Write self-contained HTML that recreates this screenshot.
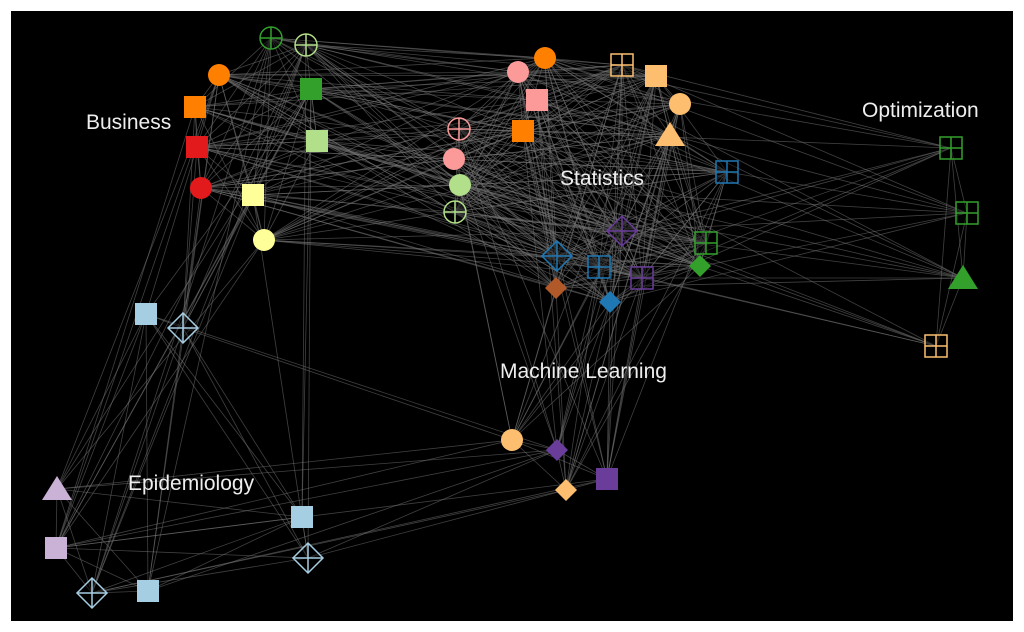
<!DOCTYPE html>
<html><head><meta charset="utf-8"><style>
html,body{margin:0;padding:0;background:#fff;width:1024px;height:632px;overflow:hidden}
#c{position:absolute;left:11px;top:11px;width:1002px;height:610px;background:#000}
svg{position:absolute;left:0;top:0}
text{font-family:"Liberation Sans",sans-serif;font-size:21px;fill:#eee}
</style></head><body>
<div id="c"></div>
<svg id="s" width="1024" height="632"><g id="e"></g><g id="n"></g>
<text x="86" y="129">Business</text>
<text x="560" y="185">Statistics</text>
<text x="862" y="117">Optimization</text>
<text x="500" y="378">Machine Learning</text>
<text x="128" y="490">Epidemiology</text>
</svg>
<script>
var G='#33a02c',LG='#b2df8a',O='#ff7f00',R='#e31a1c',Y='#ffff99',P='#fb9a99',LO='#fdbf6f',B='#1f78b4',PU='#6a3d9a',BR='#b15928',LB='#a6cee3',LP='#cab2d6';
var N=[
[271,38,'cc',G,0],[306,45,'cc',LG,0],[219,75,'c',O,0],[195,107,'s',O,0],[311,89,'s',G,0],[197,147,'s',R,0],[317,141,'s',LG,0],[201,188,'c',R,0],[253,195,'s',Y,0],[264,240,'c',Y,0],
[459,129,'cc',P,1],[454,159,'c',P,1],[460,185,'c',LG,1],[455,212,'cc',LG,1],[518,72,'c',P,1],[545,58,'c',O,1],[537,100,'s',P,1],[523,131,'s',O,1],[622,65,'sc',LO,1],[656,76,'s',LO,1],[680,104,'c',LO,1],[670,135,'t',LO,1],[727,172,'sc',B,1],[622,231,'dc',PU,1],[557,256,'dc',B,1],[599,267,'sc',B,1],[642,278,'sc',PU,1],[706,243,'sc',G,1],[700,266,'d',G,1],[556,288,'d',BR,1],[610,302,'d',B,1],
[951,148,'sc',G,2],[967,213,'sc',G,2],[963,278,'t',G,2],[936,346,'sc',LO,2],
[512,440,'c',LO,3],[557,450,'d',PU,3],[607,479,'s',PU,3],[566,490,'d',LO,3],
[146,314,'s',LB,4],[183,328,'dc',LB,4],[57,489,'t',LP,4],[56,548,'s',LP,4],[92,593,'dc',LB,4],[148,591,'s',LB,4],[302,517,'s',LB,4],[308,558,'dc',LB,4]];
var seed=7;function rnd(){seed=(seed*16807)%2147483647;return seed/2147483647;}
var pr=[[0.9,0.55,0,0,0.3],[0.55,0.85,0.35,0.4,0],[0,0.35,1,0,0],[0,0.4,0,1,0.35],[0.3,0,0,0.35,0.9]];
var e='';
for(var i=0;i<N.length;i++)for(var j=i+1;j<N.length;j++){var a=N[i],b=N[j];
 var p=pr[a[4]][b[4]];
 if(a[4]==4&&b[4]==0&&a[1]>400)p=0.05;
 if(a[4]==4&&b[4]==3&&a[1]<400)p=0.05;
 if(rnd()<p)e+='<line x1="'+a[0]+'" y1="'+a[1]+'" x2="'+b[0]+'" y2="'+b[1]+'"/>';}
document.getElementById('e').innerHTML='<g stroke="#777" stroke-opacity="0.55" stroke-width="0.8">'+e+'</g>';
var n='';
N.forEach(function(d){var x=d[0],y=d[1],c=d[3];
 if(d[2]=='c')n+='<circle cx="'+x+'" cy="'+y+'" r="11" fill="'+c+'"/>';
 else if(d[2]=='s')n+='<rect x="'+(x-11)+'" y="'+(y-11)+'" width="22" height="22" fill="'+c+'"/>';
 else if(d[2]=='t')n+='<polygon points="'+x+','+(y-13)+' '+(x+15)+','+(y+11)+' '+(x-15)+','+(y+11)+'" fill="'+c+'"/>';
 else if(d[2]=='d')n+='<polygon points="'+x+','+(y-11)+' '+(x+11)+','+y+' '+x+','+(y+11)+' '+(x-11)+','+y+'" fill="'+c+'"/>';
 else{var g='<g stroke="'+c+'" stroke-width="1.5" fill="#000" fill-opacity="0.4">';
  if(d[2]=='cc')g+='<circle cx="'+x+'" cy="'+y+'" r="11"/>';
  if(d[2]=='sc')g+='<rect x="'+(x-11)+'" y="'+(y-11)+'" width="22" height="22"/>';
  if(d[2]=='dc')g+='<polygon points="'+x+','+(y-15)+' '+(x+15)+','+y+' '+x+','+(y+15)+' '+(x-15)+','+y+'"/>';
  var r=d[2]=='dc'?15:11;
  g+='<line x1="'+(x-r)+'" y1="'+y+'" x2="'+(x+r)+'" y2="'+y+'"/><line x1="'+x+'" y1="'+(y-r)+'" x2="'+x+'" y2="'+(y+r)+'"/></g>';
  n+=g;}
});
document.getElementById('n').innerHTML=n;
</script>
</body></html>
